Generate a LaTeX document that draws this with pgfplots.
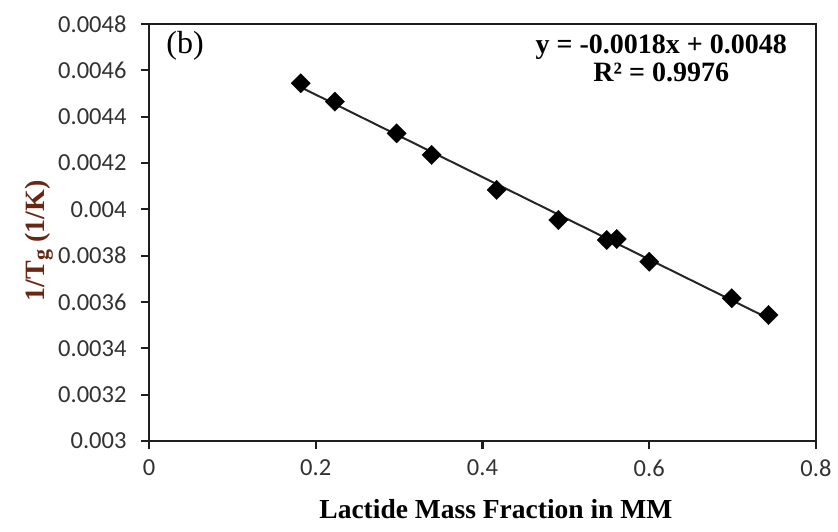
\documentclass[border=0pt]{standalone}
\usepackage{pgfplots}
\usepackage{pgfplotstable}
\pgfplotsset{compat=1.18}
\usepackage{fontspec}
\setmainfont{Liberation Serif}
\newfontfamily\calibri{Carlito}
\usetikzlibrary{calc}
\definecolor{labred}{RGB}{105,38,18}
\definecolor{axgray}{RGB}{30,30,30}
\definecolor{tickgray}{RGB}{50,50,50}

\pgfplotstableread{
x y
0.182 0.004544
0.223 0.004465
0.297 0.004328
0.339 0.004235
0.417 0.004084
0.491 0.003954
0.549 0.003868
0.561 0.003872
0.600 0.003774
0.699 0.003616
0.743 0.003544
}\datatable

\begin{document}
\begin{tikzpicture}
\begin{axis}[
  scale only axis, width=667pt, height=417pt,
  xmin=0, xmax=0.8, ymin=0.003, ymax=0.0048,
  xtick={0,0.2,0.4,0.6,0.8},
  xticklabels={0,0.2,0.4,0.6,0.8},
  ytick={0.003,0.0032,0.0034,0.0036,0.0038,0.004,0.0042,0.0044,0.0046,0.0048},
  yticklabels={0.003,0.0032,0.0034,0.0036,0.0038,0.004,0.0042,0.0044,0.0046,0.0048},
  scaled ticks=false,
  tick align=outside, xtick pos=bottom, ytick pos=left,
  major tick length=8pt,
  axis line style={axgray, line width=2.2pt},
  tick style={axgray, line width=2.2pt},
  tick label style={font=\calibri\fontsize{24.5}{28}\selectfont, text=tickgray},
  yticklabel style={xshift=-11pt},
  xticklabel style={yshift=-7pt},
  xlabel={\bfseries Lactide Mass Fraction in MM},
  xlabel style={font=\fontsize{27.5}{30}\selectfont, at={(axis description cs:0.52,-0.163)}, anchor=center},
  ylabel={\bfseries 1/T\textsubscript{\fontsize{22}{22}\selectfont g} (1/K)},
  ylabel style={font=\fontsize{28}{30}\selectfont, text=labred, at={(axis description cs:-0.165,0.48)}, anchor=center},
  clip=false,
]
\addplot[black!85, line width=2pt, no marks] table[x=x, y={create col/linear regression={y=y}}] {\datatable};
\addplot[only marks, mark=square*, mark size=6.8pt, mark options={rotate=45, fill=black, draw=black}] table[x=x, y=y] {\datatable};
\node[font=\fontsize{32}{34}\selectfont, anchor=center] at (axis description cs:0.054,0.948) {(b)};
\node[font=\bfseries\fontsize{28}{28}\selectfont, align=center, anchor=center] at (axis description cs:0.768,0.918) {y = -0.0018x + 0.0048\\R² = 0.9976};
\coordinate (sw) at (rel axis cs:0,0);
\coordinate (ne) at (rel axis cs:1,1);
\end{axis}
\draw[axgray, line width=2.4pt] (sw) rectangle (ne);
\pgfresetboundingbox
\path ($(sw)+(-149pt,-90pt)$) rectangle ($(ne)+(22pt,24pt)$);
\end{tikzpicture}
\end{document}
